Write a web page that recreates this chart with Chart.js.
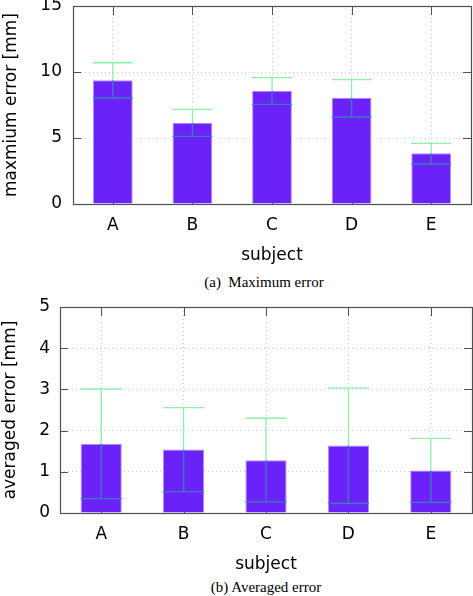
<!DOCTYPE html>
<html>
<head>
<meta charset="utf-8">
<script src="https://cdn.jsdelivr.net/npm/chart.js@4/dist/chart.umd.min.js"></script>
<style>
  html, body { margin:0; padding:0; background:#fff; width:473px; height:596px; overflow:hidden; position:relative; }
  canvas { position:absolute; left:0; }
  .cap { position:absolute; font-family:"Liberation Serif","Times New Roman",serif; font-size:15px; color:#000; white-space:pre; transform:translate(-50%,-50%); line-height:1; }
</style>
</head>
<body>
<canvas id="c1" width="473" height="276" style="top:-10px"></canvas>
<canvas id="c2" width="473" height="284" style="top:291px"></canvas>
<div class="cap" style="left:264px; top:282px">(a)  Maximum error</div>
<div class="cap" style="left:266px; top:587px">(b) Averaged error</div>
<script>
const categories = ['A', 'B', 'C', 'D', 'E'];

const maxError     = [9.37, 6.16, 8.58, 8.05, 3.84];
const maxErrorLow  = [8.03, 5.13, 7.55, 6.59, 3.03];
const maxErrorHigh = [10.7, 7.17, 9.57, 9.42, 4.60];
const maxTicks     = [0, 5, 10, 15];

const avgError     = [1.68, 1.54, 1.28, 1.64, 1.03];
const avgErrorLow  = [0.35, 0.52, 0.27, 0.23, 0.26];
const avgErrorHigh = [3.01, 2.56, 2.30, 3.03, 1.81];
const avgTicks     = [0, 1, 2, 3, 4, 5];

const FONT = 'DejaVu Sans';
const BAR = '#6a22f8';
const BAR_EDGE = '#b48cff';
const ERR = '#8cf0aa';
const ERR_IN = '#3c7cb8';
const AXIS = '#505050';

const framePlugin = {
  id: 'frame',
  beforeDatasetsDraw(chart) {
    const {ctx, chartArea: a, scales: {x, y}} = chart;
    ctx.save();
    ctx.strokeStyle = AXIS;
    ctx.lineWidth = 1;
    ctx.beginPath();
    y.ticks.forEach(t => {
      const p = Math.round(y.getPixelForValue(t.value)) + 0.5;
      ctx.moveTo(a.left, p); ctx.lineTo(a.left + 8, p);
      ctx.moveTo(a.right, p); ctx.lineTo(a.right - 8, p);
    });
    x.ticks.forEach((t, i) => {
      const p = Math.round(x.getPixelForValue(i)) + 0.5;
      ctx.moveTo(p, a.top); ctx.lineTo(p, a.top + 9);
      ctx.moveTo(p, a.bottom); ctx.lineTo(p, a.bottom - 9);
    });
    ctx.stroke();
    ctx.restore();
  },
  afterDatasetsDraw(chart, args, opts) {
    const {ctx, chartArea: a, scales: {y}} = chart;
    const meta = chart.getDatasetMeta(0);
    const low = opts.low, high = opts.high;
    ctx.save();
    ctx.lineWidth = 1.3;
    meta.data.forEach((bar, i) => {
      const cx = bar.x;
      const hw = bar.width / 2;
      const yTop = bar.y;
      const yHi = y.getPixelForValue(high[i]);
      const yLo = y.getPixelForValue(low[i]);
      ctx.strokeStyle = ERR;
      ctx.beginPath();
      ctx.moveTo(cx, yHi); ctx.lineTo(cx, yTop);
      ctx.moveTo(cx - hw, yHi); ctx.lineTo(cx + hw, yHi);
      ctx.stroke();
      ctx.strokeStyle = ERR_IN;
      ctx.beginPath();
      ctx.moveTo(cx, yTop); ctx.lineTo(cx, yLo);
      ctx.moveTo(cx - hw, yLo); ctx.lineTo(cx + hw, yLo);
      ctx.stroke();
    });
    ctx.strokeStyle = AXIS;
    ctx.lineWidth = 1.2;
    ctx.strokeRect(Math.round(a.left) + 0.5, Math.round(a.top) + 0.5, Math.round(a.right - a.left), Math.round(a.bottom - a.top));
    ctx.restore();
  }
};

function makeChart(id, values, low, high, ticks, yTitle, yWidth, padRight, tickPad, titlePad) {
  return new Chart(document.getElementById(id), {
    type: 'bar',
    data: {
      labels: categories,
      datasets: [{
        data: values,
        backgroundColor: BAR,
        borderColor: BAR_EDGE,
        borderWidth: {left: 1, right: 1, top: 1, bottom: 0},
        borderSkipped: false,
        barPercentage: 0.5,
        categoryPercentage: 1.0
      }]
    },
    options: {
      responsive: false,
      animation: false,
      devicePixelRatio: 1,
      layout: { padding: { top: 16, right: padRight, left: 0, bottom: 0 } },
      plugins: {
        legend: { display: false },
        tooltip: { enabled: false },
        frame: { low: low, high: high }
      },
      scales: {
        x: {
          grid: { offset: false, drawTicks: false, color: 'rgba(0,0,0,0.22)' },
          border: { display: false, dash: [1, 3] },
          ticks: { padding: 11, color: '#000', font: { family: FONT, size: 17 } },
          title: { display: true, text: 'subject', color: '#000', padding: 0, font: { family: FONT, size: 17 } },
          afterFit(s) { s.height = 62; s.paddingLeft = 0; s.paddingRight = 0; }
        },
        y: {
          min: ticks[0],
          max: ticks[ticks.length - 1],
          afterBuildTicks(s) { s.ticks = ticks.map(v => ({ value: v })); },
          grid: { drawTicks: false, color: 'rgba(0,0,0,0.22)' },
          border: { display: false, dash: [1, 3] },
          ticks: { padding: tickPad, color: '#000', font: { family: FONT, size: 17 } },
          title: { display: true, text: yTitle, color: '#000', padding: { top: titlePad, bottom: 0 }, font: { family: FONT, size: 17 } },
          afterFit(s) { s.width = yWidth; s.paddingTop = 0; s.paddingBottom = 0; }
        }
      }
    },
    plugins: [framePlugin]
  });
}

makeChart('c1', maxError, maxErrorLow, maxErrorHigh, maxTicks, 'maxmium error [mm]', 73, 2, 11, 1);
makeChart('c2', avgError, avgErrorLow, avgErrorHigh, avgTicks, 'averaged error [mm]', 60, 1, 10, 0);
</script>
</body>
</html>
